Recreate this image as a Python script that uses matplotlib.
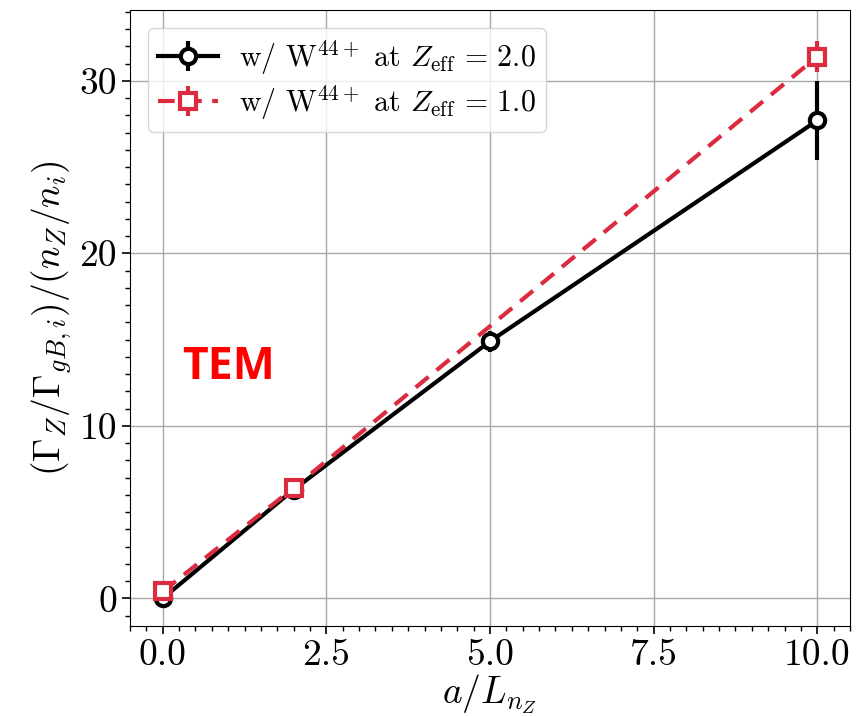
import matplotlib
matplotlib.use("Agg")
import matplotlib.pyplot as plt
from matplotlib.ticker import MultipleLocator

# data
x_z2 = [0.0, 2.0, 5.0, 10.0]
y_z2 = [0.0, 6.3, 14.9, 27.7]
err_z2 = [0.2, 0.2, 0.6, 2.3]

x_z1 = [0.0, 2.0, 10.0]
y_z1 = [0.4, 6.4, 31.4]
err_z1 = [0.3, 0.3, 0.9]

label_z2 = r"w/ W$^{44+}$ at $Z_{\rm eff}\,=\,2.0$"
label_z1 = r"w/ W$^{44+}$ at $Z_{\rm eff}\,=\,1.0$"

plt.rcParams["font.family"] = "serif"
plt.rcParams["font.serif"] = ["cmr10"]
plt.rcParams["mathtext.fontset"] = "cm"
plt.rcParams["axes.formatter.use_mathtext"] = True

fig = plt.figure(figsize=(8.58, 7.16), dpi=100)
ax = fig.add_axes([0.1515, 0.1257, 0.8392, 0.8603])

ax.errorbar(x_z2, y_z2, yerr=err_z2, color="black", lw=3, elinewidth=3,
            marker="o", ms=11, mfc="white", mec="black", mew=3,
            label=label_z2, zorder=3)
ax.errorbar(x_z1, y_z1, yerr=err_z1, color="#dc2a3f", lw=3, elinewidth=3,
            ls="--", dashes=(4, 2.5), marker="s", ms=12, mfc="white",
            mec="#dc2a3f", mew=3, label=label_z1, zorder=4)

ax.text(0.3, 13.4, "TEM", color="#ff0000", fontsize=32, fontweight="bold",
        family="Open Sans", va="center", ha="left")

ax.set_xlim(-0.5, 10.5)
ax.set_ylim(-1.6, 34.1)
ax.xaxis.set_major_locator(MultipleLocator(2.5))
ax.xaxis.set_minor_locator(MultipleLocator(0.25))
ax.yaxis.set_major_locator(MultipleLocator(10))
ax.yaxis.set_minor_locator(MultipleLocator(1))
ax.xaxis.set_major_formatter(plt.FuncFormatter(lambda v, p: f"{v:.1f}"))
ax.yaxis.set_major_formatter(plt.FuncFormatter(lambda v, p: f"{v:.0f}"))
ax.tick_params(which="major", labelsize=27, length=6, width=1.2)
ax.tick_params(which="minor", length=3.5, width=1)
ax.grid(True, which="major", color="#a8a8a8", lw=1)
ax.set_axisbelow(True)

ax.set_xlabel(r"$a/L_{n_Z}$", fontsize=27, labelpad=0)
ax.set_ylabel(r"$(\Gamma_Z/\Gamma_{gB,i})/(n_Z/n_i)$", fontsize=27, labelpad=4)

ax.legend(loc="upper left", fontsize=21.5, handlelength=2.0,
          borderpad=0.35, labelspacing=0.2, borderaxespad=0.6,
          handletextpad=0.7, framealpha=0.8)

fig.savefig("out.png", dpi=100)
